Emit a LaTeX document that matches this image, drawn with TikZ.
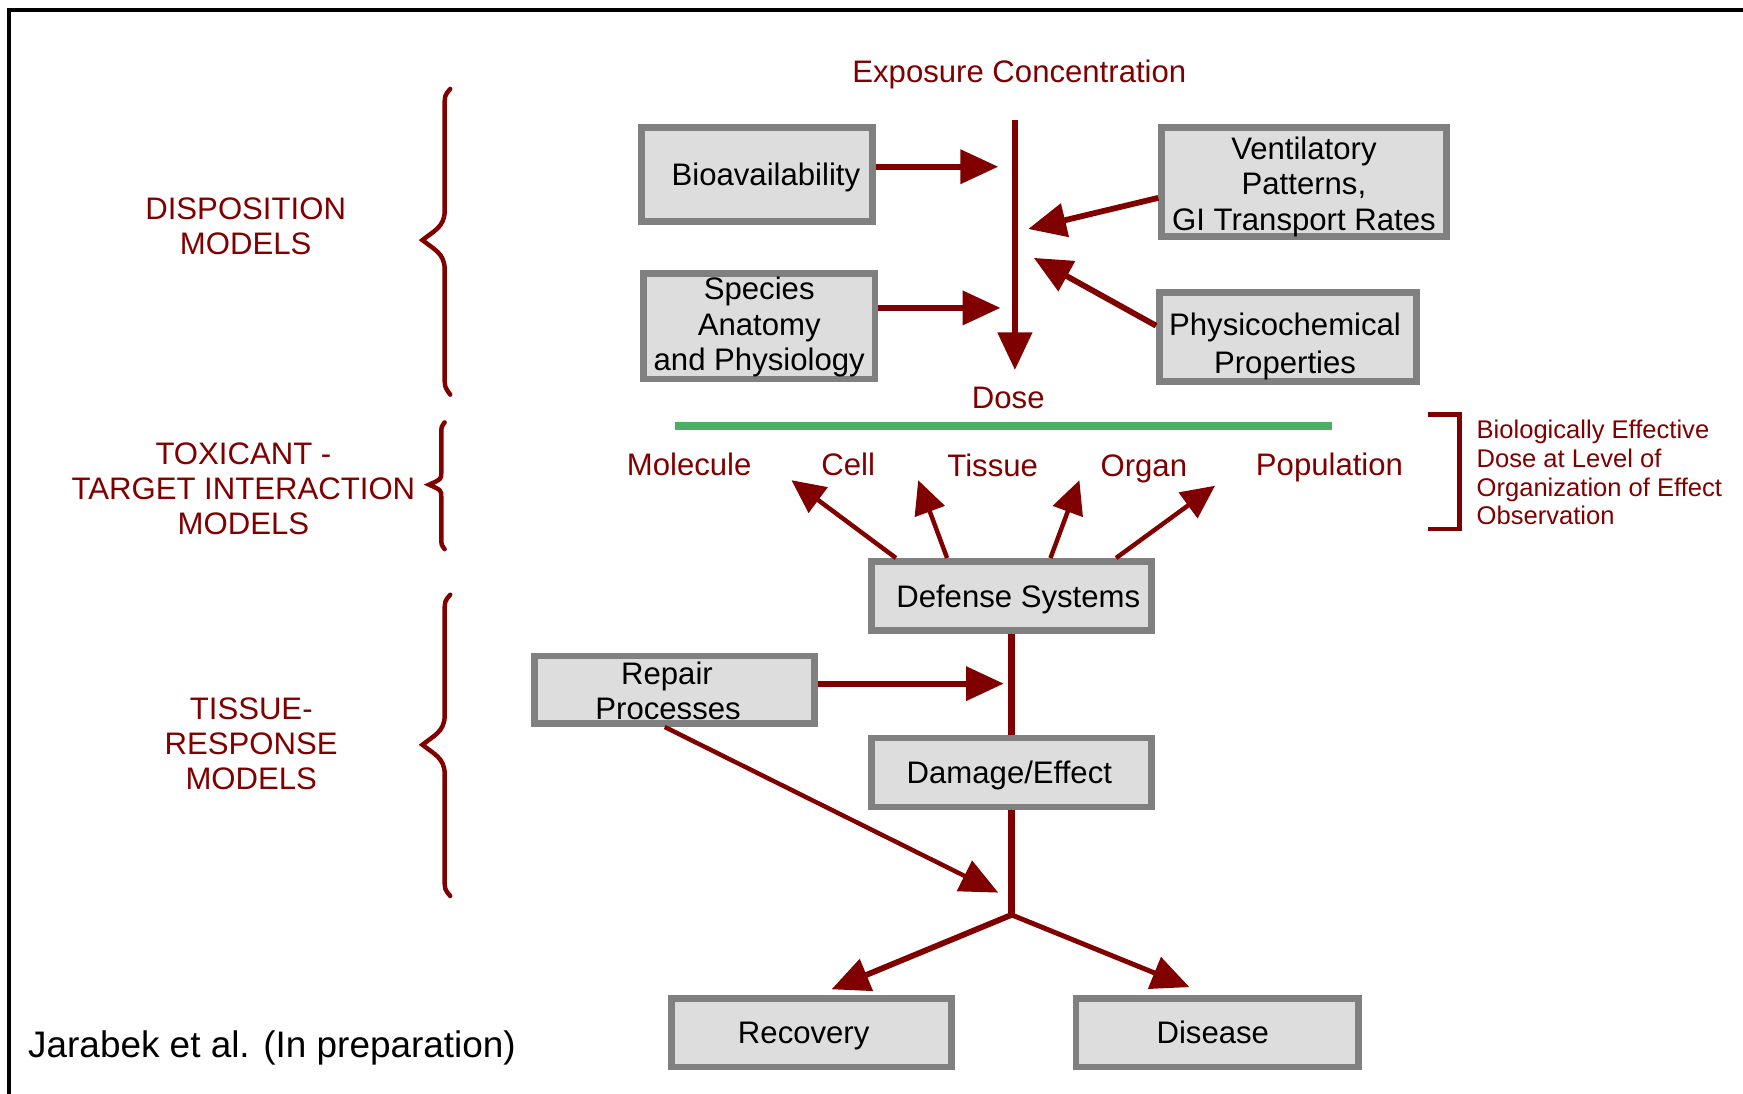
\documentclass[tikz,border=0pt]{standalone}
\usepackage{fontspec}
\setmainfont{Liberation Sans}
\usetikzlibrary{arrows.meta,calc}
\definecolor{dred}{RGB}{128,0,0}
\definecolor{boxgray}{RGB}{128,128,128}
\definecolor{boxfill}{RGB}{221,221,221}
\definecolor{lgreen}{RGB}{75,175,99}
\newcommand{\padx}[1]{\hbox to #1{}}
\begin{document}
\begin{tikzpicture}[x=0.5pt,y=-0.5pt,
  box/.style={draw=boxgray,fill=boxfill,line width=3pt,inner sep=0pt,align=center,
    font=\fontsize{14}{16}\selectfont,text=black},
  redlbl/.style={text=dred,inner sep=0pt,align=center,font=\fontsize{14}{15.75}\selectfont},
  arr/.style={draw=dred,line width=2.6pt,-{Triangle[length=17pt,width=15pt]}},
  thinarr/.style={draw=dred,line width=2pt,-{Triangle[length=15pt,width=14pt]}},
  plainln/.style={draw=dred,line width=3pt},
  bracestyle/.style={draw=dred,line width=2pt,line cap=round,line join=miter}]
\useasboundingbox (0,0) rectangle (1568,984);
% frame
\draw[line width=1.6pt] (8,984) -- (8,9) -- (1568,9);

% boxes
\node[box,minimum width=104pt,minimum height=42pt,text depth=0pt] (bio) at (681,157) {\padx{8pt}Bioavailability};
\node[box,minimum width=104pt,minimum height=47.5pt] (spec) at (683,293.5) {\rule{0pt}{11pt}Species\\Anatomy\\and Physiology};
\node[box,minimum width=128pt,minimum height=49pt] (vent) at (1173,164) {\rule{0pt}{14pt}Ventilatory\\Patterns,\\GI Transport Rates};
\node[box,minimum width=115.5pt,minimum height=40pt,font=\fontsize{14}{17}\selectfont] (phys) at (1158.5,303) {\rule{0pt}{18.5pt}Physicochemical\padx{2.5pt}\\Properties\padx{2.5pt}};
\node[box,minimum width=126pt,minimum height=31pt,text depth=0pt] (def) at (910,536) {\padx{6pt}Defense Systems};
\node[box,minimum width=126pt,minimum height=30.5pt] (rep) at (607,620.5) {\rule{0pt}{11pt}Repair\padx{7pt}\\Processes\padx{6pt}};
\node[box,minimum width=126pt,minimum height=31pt,text depth=0pt] (dam) at (910,695) {Damage/Effect\padx{2pt}};
\node[box,minimum width=126pt,minimum height=31pt,text depth=0pt] (rec) at (730,929) {Recovery\padx{7pt}};
\node[box,minimum width=127pt,minimum height=31pt] (dis) at (1095,929) {Disease\padx{4pt}};

% red labels
\node[redlbl] (expo) at (917,67) {Exposure Concentration};
\node[redlbl] (dose) at (907,358) {Dose};
\node[redlbl,anchor=base] (mol) at (620,428) {Molecule};
\node[redlbl,anchor=base] (cell) at (763,428) {Cell};
\node[redlbl,anchor=base] (tis) at (893,429) {Tissue};
\node[redlbl,anchor=base] (org) at (1029,429) {Organ};
\node[redlbl,anchor=base] (pop) at (1196,428) {Population};

\node[redlbl] (disp) at (221,204) {DISPOSITION\\MODELS};
\node[redlbl] (toxi) at (219,440) {TOXICANT -\\TARGET INTERACTION\\MODELS};
\node[redlbl] (tissr) at (226,669) {TISSUE-\\RESPONSE\\MODELS};

\node[redlbl,anchor=west,align=left,font=\fontsize{11.5}{13}\selectfont] (bed) at (1328,425)
  {Biologically Effective\\Dose at Level of\\Organization of Effect\\Observation};

\node[inner sep=0pt,anchor=west,font=\fontsize{16.6}{19}\selectfont] (cite) at (25,943) {Jarabek et al. (In preparation)};

% coordinates
\coordinate (vtop) at (913,108);
\coordinate (vtip) at (913,333);
\coordinate (bioT) at (898,150);
\coordinate (specT) at (900,277);
\coordinate (ventT) at (925,206);
\coordinate (physT) at (930,232);
\coordinate (molT) at (712,432);
\coordinate (cellT) at (826,432);
\coordinate (tisT) at (971,432);
\coordinate (orgT) at (1093,437);
\coordinate (repT) at (903,615);
\coordinate (repD) at (898,803);
\coordinate (junc) at (910,823);
\coordinate (recT) at (748,890);
\coordinate (disT) at (1070,888);

% green dose line
\draw[lgreen,line width=3.5pt] (607,383) -- (1198,383);

% connectors
\draw[arr,line width=3pt] (vtop) -- (vtip);
\draw[arr] ([yshift=3.5pt]bio.east) -- (bioT);
\draw[arr] ([yshift=8.25pt]spec.east) -- (specT);
\draw[arr] ([yshift=-7pt]vent.west) -- (ventT);
\draw[arr] ([yshift=5pt]phys.west) -- (physT);

\draw[thinarr] ([xshift=-52pt]def.north) -- (molT);
\draw[thinarr] ([xshift=-29pt]def.north) -- (cellT);
\draw[thinarr] ([xshift=17.5pt]def.north) -- (tisT);
\draw[thinarr] ([xshift=47pt]def.north) -- (orgT);

\draw[plainln] (def.south) -- (dam.north);
\draw[arr] ([yshift=2.75pt]rep.east) -- (repT);
\draw[plainln] (dam.south) -- (junc);
\draw[thinarr,-{Triangle[length=17pt,width=15pt]}] ([xshift=-4.5pt]rep.south) -- (repD);
\draw[arr] (junc) -- (recT);
\draw[thinarr,line width=2.2pt,-{Triangle[length=17pt,width=15pt]}] (junc) -- (disT);

% right bracket
\draw[draw=dred,line width=2pt] (1285,373) -- (1313,373) -- (1313,476) -- (1285,476);

% braces
\draw[bracestyle] (405,80) .. controls (400,86) .. (400,96) -- (400,190)
  .. controls (400,204) and (390,208) .. (380,216)
  .. controls (390,224) and (400,228) .. (400,242) -- (400,338)
  .. controls (400,348) .. (405,355);
\draw[bracestyle] (400,380) .. controls (397,384) .. (397,390) -- (397,425)
  .. controls (397,431) .. (386,436)
  .. controls (397,441) .. (397,447) -- (397,484)
  .. controls (397,490) .. (400,494);
\draw[bracestyle] (405,535) .. controls (400,541) .. (400,551) -- (400,644)
  .. controls (400,658) and (390,662) .. (380,670)
  .. controls (390,678) and (400,682) .. (400,696) -- (400,790)
  .. controls (400,800) .. (405,806);
\end{tikzpicture}
\end{document}
